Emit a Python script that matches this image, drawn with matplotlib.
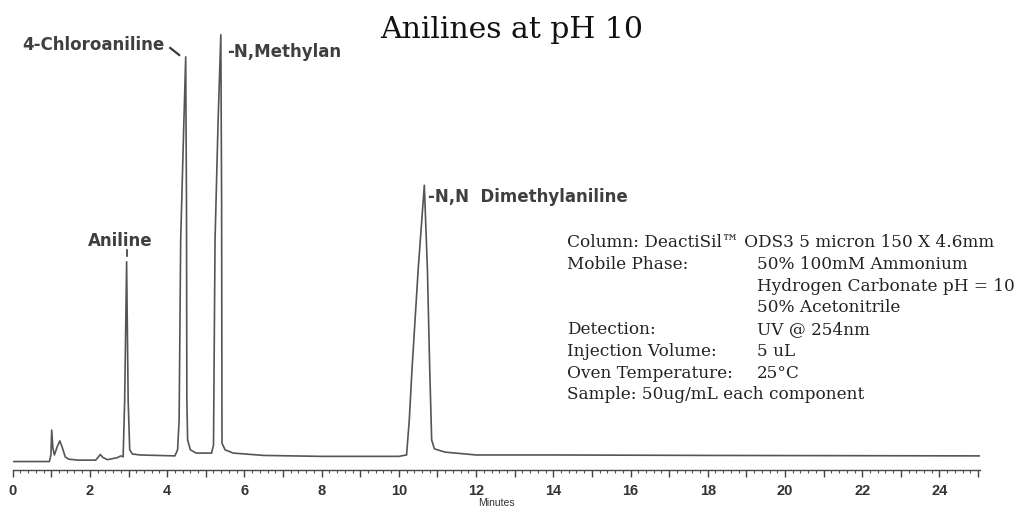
"""Anilines at pH 10 - chromatogram redraw."""
import matplotlib
matplotlib.use("Agg")
import matplotlib.pyplot as plt
from matplotlib.ticker import MultipleLocator, FuncFormatter

# detector trace (time in minutes, response in % of full scale)
time_min = [
    0.00, 0.95, 0.99, 1.01, 1.04, 1.08, 1.15, 1.22, 1.28, 1.36, 1.45, 1.70,
    2.15, 2.22, 2.27, 2.33, 2.45, 2.70, 2.80, 2.86, 2.90, 2.95, 2.99, 3.03,
    3.10, 3.30, 4.20, 4.27, 4.31, 4.35, 4.42, 4.48, 4.50, 4.51, 4.53, 4.60,
    4.75, 5.15, 5.20, 5.24, 5.32, 5.39, 5.41, 5.42, 5.50, 5.71, 6.50, 8.00,
    10.00, 10.20, 10.27, 10.34, 10.50, 10.66, 10.74, 10.80, 10.85, 10.92,
    11.20, 12.00, 14.00, 18.00, 25.05,
]
response = [
    1.8, 1.8, 3.2, 8.5, 4.7, 3.2, 4.9, 6.2, 4.9, 2.8, 2.3, 2.1,
    2.1, 2.8, 3.3, 2.7, 2.2, 2.6, 3.0, 2.8, 14.9, 44.3, 14.9, 4.3,
    3.4, 3.2, 3.0, 4.3, 10.6, 48.9, 70.2, 87.9, 57.4, 14.9, 6.4, 4.3,
    3.6, 3.6, 5.3, 48.9, 74.5, 92.6, 57.4, 5.7, 4.3, 3.6, 3.1, 2.9,
    2.9, 3.2, 10.6, 21.3, 42.6, 60.6, 42.6, 21.3, 6.4, 4.5,
    3.8, 3.2, 3.2, 3.1, 3.0,
]

# peak labels: (text, x, y, ha)
peak_labels = [
    ("4-Chloroaniline", 0.24, 90.4, "left"),
    ("-N,Methylan", 5.55, 88.9, "left"),
    ("Aniline", 2.78, 48.7, "center"),
    ("-N,N  Dimethylaniline", 10.76, 58.1, "left"),
]

info_left = [
    "Column: DeactiSil\u2122 ODS3 5 micron 150 X 4.6mm",
    "Mobile Phase:", "", "", "Detection:", "Injection Volume:",
    "Oven Temperature:", "Sample: 50ug/mL each component",
]
info_right = [
    "", "50% 100mM Ammonium", "Hydrogen Carbonate pH = 10",
    "50% Acetonitrile", "UV @ 254nm", "5 uL", "25\u00b0C", "",
]

W, H = 1023, 508
fig = plt.figure(figsize=(W / 100, H / 100), dpi=100)
ax = fig.add_axes([12.7 / W, 1 - 470 / H, 967.3 / W, 470 / H])

ax.plot(time_min, response, color="#555555", lw=1.2)
ax.set_xlim(0, 25.05)
ax.set_ylim(0, 100)

for s in ("top", "left", "right"):
    ax.spines[s].set_visible(False)
ax.spines["bottom"].set_color("#444444")
ax.spines["bottom"].set_linewidth(1.0)
ax.set_yticks([])

ax.xaxis.set_major_locator(MultipleLocator(1))
ax.xaxis.set_minor_locator(MultipleLocator(0.2))
ax.xaxis.set_major_formatter(
    FuncFormatter(lambda v, _: f"{int(round(v))}" if round(v) % 2 == 0 else ""))
ax.tick_params(axis="x", which="major", length=5, width=1, color="#444444",
               pad=5, labelsize=10.5, labelcolor="#333333")
ax.tick_params(axis="x", which="minor", length=2.5, width=0.8, color="#555555")
for lbl in ax.get_xticklabels():
    lbl.set_fontfamily("Liberation Sans")
    lbl.set_fontweight("bold")
ax.set_xlabel("Minutes", fontsize=7.5, family="Liberation Sans", color="#333333",
              labelpad=0)

for txt, x, y, ha in peak_labels:
    ax.text(x, y, txt, ha=ha, va="center", fontsize=12, fontweight="bold",
            family="DejaVu Sans", color="#3f3f3f")
# leader marks
ax.plot([4.08, 4.31], [89.8, 88.3], color="#3a3a3a", lw=1.6)
ax.plot([2.96, 2.96], [45.5, 46.9], color="#3a3a3a", lw=1.2)

fig.text(512 / W, 1 - 38 / H, "Anilines at pH 10", ha="center", va="baseline",
         fontsize=21.5, family="DejaVu Serif", color="#111111")

for i, (l, r) in enumerate(zip(info_left, info_right)):
    yb = 1 - (247.3 + i * 21.73) / H
    if l:
        fig.text(567 / W, yb, l, ha="left", va="baseline", fontsize=12.2,
                 family="DejaVu Serif", color="#222222")
    if r:
        fig.text(757 / W, yb, r, ha="left", va="baseline", fontsize=12.2,
                 family="DejaVu Serif", color="#222222")

fig.savefig("out.png", dpi=100, facecolor="white")
